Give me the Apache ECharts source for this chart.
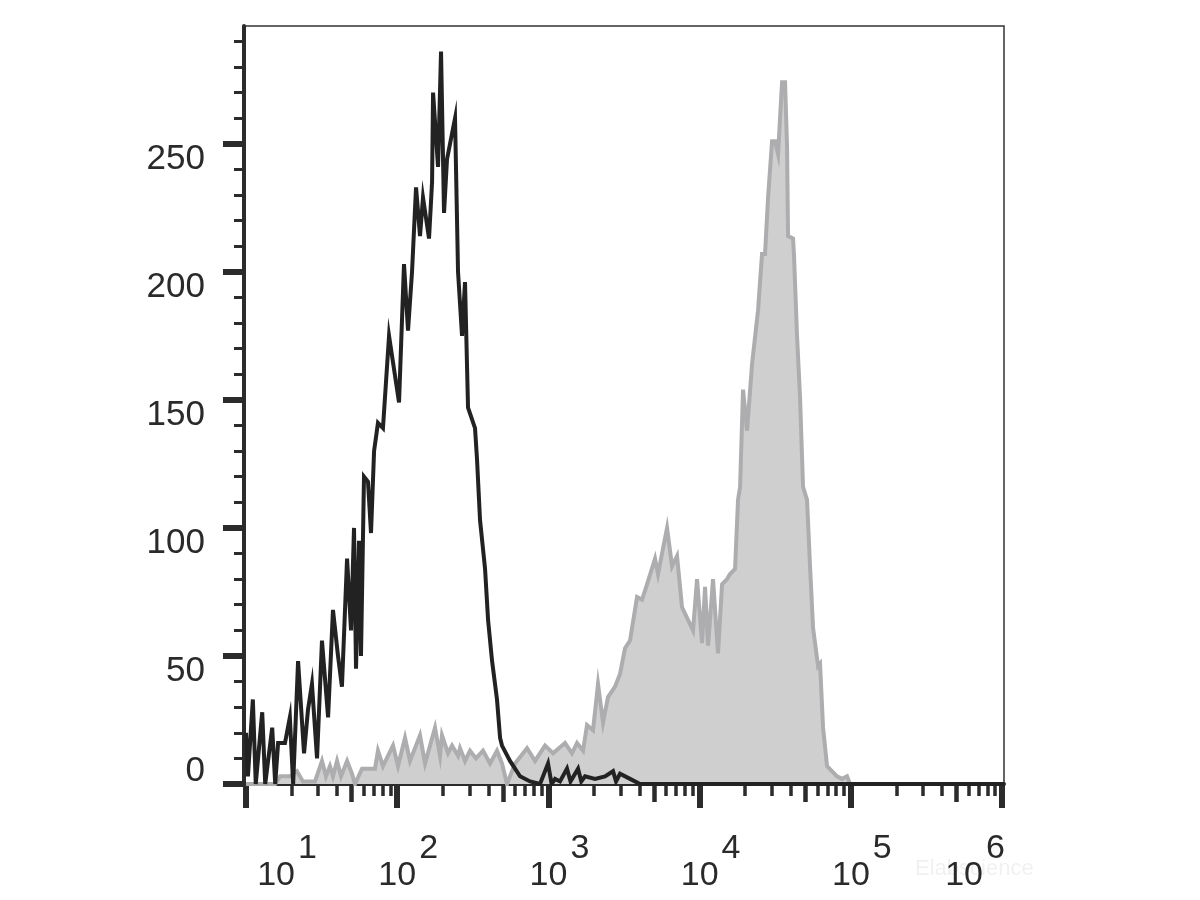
<!DOCTYPE html>
<html>
<head>
<meta charset="utf-8">
<script src="https://cdn.jsdelivr.net/npm/echarts@6/dist/echarts.min.js"></script>
<style>html,body{margin:0;padding:0;background:#fff}#c{width:1200px;height:900px}</style>
</head>
<body>
<div id="c"></div>
<script>
// ---- data (fluorescence intensity, event count) ----
const blackX = [10, 10.3, 11.1, 11.6, 12.8, 13.4, 14.9, 15.6, 16.3, 18.1, 19.5, 20.5, 22.1, 24.2, 25.7, 27.3, 29.5, 31.8, 34.9, 37.6, 40.6, 43.1, 46.6, 49.5, 51.8, 53.4, 55.9, 57.6, 60.3, 64.1, 67.1, 70.3, 74.6, 80.5, 88.3, 102.8, 110.9, 117.9, 125.3, 133.2, 141.5, 148.1, 162.3, 170.0, 172.6, 186.2, 194.9, 204.0, 213.5, 241.2, 252.5, 268.3, 280.8, 294.0, 327, 337, 353, 381, 399, 424, 457, 479, 493, 557, 649, 756, 880, 994, 1050, 1106, 1193, 1327, 1400, 1570, 1650, 1747, 2033, 2368, 2674, 2800, 2975, 3465, 4035, 1030000];
const blackY = [20, 3, 33, 0, 28, 0, 22, 0, 16, 16, 26, 0, 48, 12, 29, 39, 10, 56, 26, 68, 50, 38, 88, 60, 100, 45, 95, 50, 120, 118, 98, 130, 141, 139, 175, 149, 203, 177, 200, 233, 214, 229, 213, 235, 270, 241, 286, 223, 244, 260, 200, 175, 196, 147, 139, 127, 103, 84, 64, 48, 33, 18, 15, 9, 3, 1, 0, 8, 0, 2, 1, 6, 1, 6, 1, 3, 2, 3, 5, 1, 4, 2, 0, 0];

const grayX = [10, 15.6, 16.8, 19.5, 21.7, 23.8, 28.6, 31.8, 33.8, 35.9, 37.6, 40.0, 42.5, 46.6, 50.2, 52.6, 58.5, 71.3, 74.6, 80.5, 93.8, 101.2, 112.6, 121.5, 141.5, 152.8, 177.8, 191.9, 197.8, 216.8, 230.4, 252.5, 260.2, 280.8, 303.0, 332.1, 369.4, 411.0, 457.1, 493.4, 532.3, 601.3, 722.1, 815.5, 949.5, 1073, 1288, 1432, 1546, 1694, 1800, 1972, 2128, 2297, 2479, 2757, 2975, 3211, 3465, 3855, 4159, 4489, 5070, 5308, 6088, 6570, 7088, 7648, 9043, 9612, 10370, 10860, 11370, 12260, 13230, 14070, 15180, 15890, 17150, 17950, 18510, 19370, 20580, 22220, 24340, 25860, 27070, 28350, 30120, 31530, 33010, 35080, 36720, 37850, 38430, 41470, 42100, 44070, 46130, 48290, 51320, 53720, 56230, 60700, 62570, 65490, 69590, 81050, 87470, 94380, 98790, 1030000];
const grayY = [0, 0, 3, 3, 5, 1, 1, 9, 3, 7, 3, 9, 3, 9, 4, 0, 6, 6, 13, 7, 15, 7, 18, 9, 19, 8, 22, 11, 19, 12, 15, 11, 14, 9, 13, 10, 13, 8, 13, 8, 0, 8, 14, 9, 15, 12, 16, 12, 16, 13, 23, 21, 39, 24, 34, 38, 43, 53, 56, 73, 72, 78, 88, 82, 100, 85, 89, 69, 60, 80, 55, 77, 54, 80, 51, 78, 80, 82, 84, 111, 116, 154, 138, 164, 185, 207, 207, 229, 251, 251, 246, 274, 274, 249, 214, 213, 206, 175, 151, 116, 111, 85, 61, 46, 47, 22, 7, 3, 2, 3, 0, 0];

// ---- axes ----
const yMajorTicks = [0, 50, 100, 150, 200, 250];
const yLabelValues = [50, 100, 150, 200, 250];
const yZeroLabel = [0];
const yMinorTicks = [10, 20, 30, 40, 60, 70, 80, 90, 110, 120, 130, 140, 160, 170, 180, 190, 210, 220, 230, 240, 260, 270, 280, 290];
const xMajor = [10, 100, 1000, 10000, 100000, 1000000];
const xExponents = ['1', '2', '3', '4', '5', '6'];
const xMid = [50, 500, 5000, 50000, 500000];
const xMinorMultipliers = [2, 3, 4, 6, 7, 8, 9];

const xMinor = [];
xMajor.slice(0, -1).forEach(function (d) {
  xMinorMultipliers.forEach(function (k) { xMinor.push(k * d); });
});

const X_MIN = 9.7, X_MAX = 1030000, Y_MIN = 0, Y_MAX = 296;
const FONT = '"Liberation Sans", Arial, Helvetica, sans-serif';
const AX = '#2b2b2b';

function pairs(xs, ys) { return xs.map(function (x, i) { return [x, ys[i]]; }); }

const gridBase = { left: 244, right: 196, top: 26, bottom: 116, containLabel: false, outerBoundsMode: 'none' };

function xAxisBase(gridIndex) {
  return {
    type: 'log', logBase: 10, gridIndex: gridIndex, position: 'bottom',
    min: X_MIN, max: X_MAX,
    axisLine: { show: false }, splitLine: { show: false }, minorTick: { show: false },
    axisLabel: { show: false }, axisTick: { show: false }
  };
}
function yAxisBase(gridIndex) {
  return {
    type: 'value', gridIndex: gridIndex, position: 'left',
    min: Y_MIN, max: Y_MAX, interval: 50,
    axisLine: { show: false }, splitLine: { show: false }, minorTick: { show: false },
    axisLabel: { show: false }, axisTick: { show: false }
  };
}

const xLabelFormatter = function (v) {
  let idx = 0;
  for (let i = 0; i < xMajor.length; i++) {
    if (Math.abs(xMajor[i] - v) / xMajor[i] < 1e-6) idx = i;
  }
  const b = idx === 0 ? 'bf' : 'b';
  const s = idx === xMajor.length - 1 ? 'sl' : 's';
  return '{' + b + '|10}{' + s + '|' + xExponents[idx] + '}';
};
const tok = { fontSize: 34, fontFamily: FONT, color: '#2a2a2a', lineHeight: 40 };
const rich = {
  b: Object.assign({}, tok, { padding: [0, 3, 0, 22] }),
  bf: Object.assign({}, tok, { padding: [0, 3, 0, 82] }),
  s: Object.assign({}, tok, { padding: [0, 0, 54, 0] }),
  sl: Object.assign({}, tok, { padding: [0, 76, 54, 0] })
};

const xAxes = [
  Object.assign(xAxisBase(0), {
    axisLine: { show: true, lineStyle: { color: AX, width: 4 } },
    axisTick: { show: true, customValues: xMajor, length: 24, lineStyle: { color: AX, width: 6 } },
    axisLabel: { show: true, customValues: xMajor, formatter: xLabelFormatter, rich: rich, margin: 72,
                 fontSize: 34, fontFamily: FONT, color: '#2a2a2a' }
  }),
  Object.assign(xAxisBase(1), {
    axisTick: { show: true, customValues: xMid, length: 18, lineStyle: { color: AX, width: 4.5 } }
  }),
  Object.assign(xAxisBase(2), {
    axisTick: { show: true, customValues: xMinor, length: 12, lineStyle: { color: AX, width: 3.5 } }
  })
];

const labelStyle = { fontSize: 35, fontFamily: FONT, color: '#2a2a2a', margin: 39 };
const yAxes = [
  Object.assign(yAxisBase(0), {
    axisLine: { show: true, lineStyle: { color: AX, width: 4 } },
    axisTick: { show: true, customValues: yMajorTicks, length: 21, lineStyle: { color: AX, width: 6 } },
    axisLabel: Object.assign({ show: true, customValues: yLabelValues, verticalAlign: 'top', lineHeight: 31 }, labelStyle)
  }),
  Object.assign(yAxisBase(1), {
    axisTick: { show: true, customValues: yMinorTicks, length: 10, lineStyle: { color: AX, width: 3 } }
  }),
  Object.assign(yAxisBase(2), {
    axisLabel: Object.assign({ show: true, customValues: yZeroLabel, verticalAlign: 'bottom', lineHeight: 26 }, labelStyle)
  })
];

const grids = [
  Object.assign({}, gridBase, { show: true, borderColor: '#333', borderWidth: 1.5, backgroundColor: 'transparent' }),
  Object.assign({}, gridBase),
  Object.assign({}, gridBase)
];

const chart = echarts.init(document.getElementById('c'), null, { renderer: 'canvas' });
chart.setOption({
  animation: false,
  backgroundColor: '#ffffff',
  grid: grids,
  xAxis: xAxes,
  yAxis: yAxes,
  graphic: [{
    type: 'text', left: 915, top: 858, silent: true,
    style: { text: 'Elabscience', fontSize: 22, fontFamily: FONT, fill: 'rgba(0,0,0,0.06)' }
  }],
  series: [
    {
      name: 'stained', type: 'line', xAxisIndex: 0, yAxisIndex: 0,
      data: pairs(grayX, grayY), showSymbol: false, symbol: 'none',
      lineStyle: { color: '#adadaf', width: 4, join: 'miter' },
      areaStyle: { color: '#cfcfcf', opacity: 1 },
      z: 2
    },
    {
      name: 'control', type: 'line', xAxisIndex: 0, yAxisIndex: 0,
      data: pairs(blackX, blackY), showSymbol: false, symbol: 'none',
      lineStyle: { color: '#222222', width: 4, join: 'miter' },
      z: 3
    }
  ]
});
</script>
</body>
</html>
